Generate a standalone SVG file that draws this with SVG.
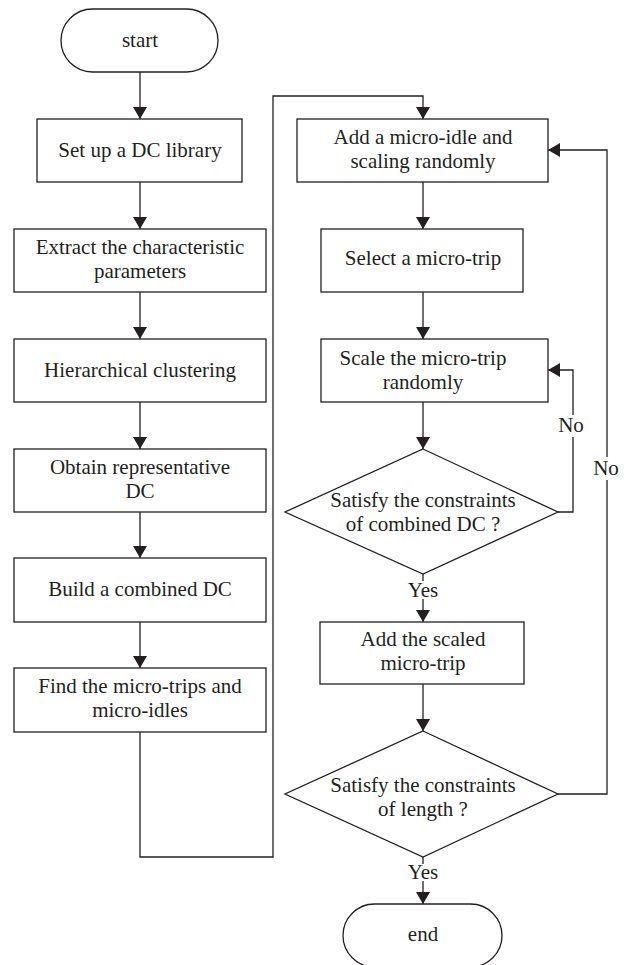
<svg xmlns="http://www.w3.org/2000/svg" width="629" height="965" viewBox="0 0 629 965">
<style>
.box{fill:#fff;stroke:#231f20;stroke-width:1.3}
.ln{fill:none;stroke:#231f20;stroke-width:1.3}
text{font-family:'Liberation Serif','Times New Roman','DejaVu Serif',serif;font-size:21px;fill:#231f20;text-anchor:middle}
</style>
<defs>
<marker id="ah" viewBox="0 0 12 14" refX="12" refY="7" markerWidth="12" markerHeight="14" markerUnits="userSpaceOnUse" orient="auto">
<path d="M0,0 L12,7 L0,14 z" fill="#231f20"/>
</marker>
</defs>
<g id="connectors">
<path class="ln" d="M140,72 V119" marker-end="url(#ah)"/>
<path class="ln" d="M140,182 V229" marker-end="url(#ah)"/>
<path class="ln" d="M140,292 V339" marker-end="url(#ah)"/>
<path class="ln" d="M140,402 V449" marker-end="url(#ah)"/>
<path class="ln" d="M140,512 V558" marker-end="url(#ah)"/>
<path class="ln" d="M140,622 V668" marker-end="url(#ah)"/>
<path class="ln" d="M140,732 V857 H273 V96 H423 V119" marker-end="url(#ah)"/>
<path class="ln" d="M423,182 V229" marker-end="url(#ah)"/>
<path class="ln" d="M423,292 V339" marker-end="url(#ah)"/>
<path class="ln" d="M423,402 V449" marker-end="url(#ah)"/>
<path class="ln" d="M423,574 V581"/>
<path class="ln" d="M423,599 V622" marker-end="url(#ah)"/>
<path class="ln" d="M423,684 V731" marker-end="url(#ah)"/>
<path class="ln" d="M423,857 V864"/>
<path class="ln" d="M423,881 V904" marker-end="url(#ah)"/>
<path class="ln" d="M558,512 H573 V437"/>
<path class="ln" d="M573,415 V370 H548" marker-end="url(#ah)"/>
<path class="ln" d="M558,794 H607 V480"/>
<path class="ln" d="M607,457 V150 H548" marker-end="url(#ah)"/>
<text x="571" y="432">No</text>
<text x="606" y="475">No</text>
<text x="423" y="597">Yes</text>
<text x="423" y="879">Yes</text>
</g>
<g id="start">
<rect class="box" x="61" y="9" width="157" height="63" rx="31.5"/>
<text x="140" y="47">start</text>
</g>
<g id="setup">
<rect class="box" x="37" y="119" width="205" height="63"/>
<text x="140" y="157">Set up a DC library</text>
</g>
<g id="extract">
<rect class="box" x="14" y="229" width="252" height="63"/>
<text x="140" y="254">Extract the characteristic</text>
<text x="140" y="278">parameters</text>
</g>
<g id="cluster">
<rect class="box" x="14" y="339" width="252" height="63"/>
<text x="140" y="377">Hierarchical clustering</text>
</g>
<g id="obtain">
<rect class="box" x="14" y="449" width="252" height="63"/>
<text x="140" y="474">Obtain representative</text>
<text x="140" y="498">DC</text>
</g>
<g id="build">
<rect class="box" x="14" y="558" width="252" height="64"/>
<text x="140" y="596">Build a combined DC</text>
</g>
<g id="find">
<rect class="box" x="14" y="668" width="252" height="64"/>
<text x="140" y="693">Find the micro-trips and</text>
<text x="140" y="717">micro-idles</text>
</g>
<g id="addidle">
<rect class="box" x="297" y="119" width="251" height="63"/>
<text x="423" y="144">Add a micro-idle and</text>
<text x="423" y="168">scaling randomly</text>
</g>
<g id="select">
<rect class="box" x="321" y="229" width="202" height="63"/>
<text x="423" y="265">Select a micro-trip</text>
</g>
<g id="scale">
<rect class="box" x="321" y="339" width="227" height="63"/>
<text x="423" y="365">Scale the micro-trip</text>
<text x="423" y="389">randomly</text>
</g>
<g id="check1">
<polygon class="box" points="423,449 558,512 423,574 285,512"/>
<text x="423" y="507">Satisfy the constraints</text>
<text x="423" y="531">of combined DC ?</text>
</g>
<g id="addscaled">
<rect class="box" x="320" y="622" width="204" height="62"/>
<text x="423" y="646">Add the scaled</text>
<text x="423" y="670">micro-trip</text>
</g>
<g id="check2">
<polygon class="box" points="423,731 558,794 423,857 285,794"/>
<text x="423" y="792">Satisfy the constraints</text>
<text x="423" y="816">of length ?</text>
</g>
<g id="end">
<rect class="box" x="343" y="904" width="159" height="63" rx="31.5"/>
<text x="423" y="941">end</text>
</g>
</svg>
